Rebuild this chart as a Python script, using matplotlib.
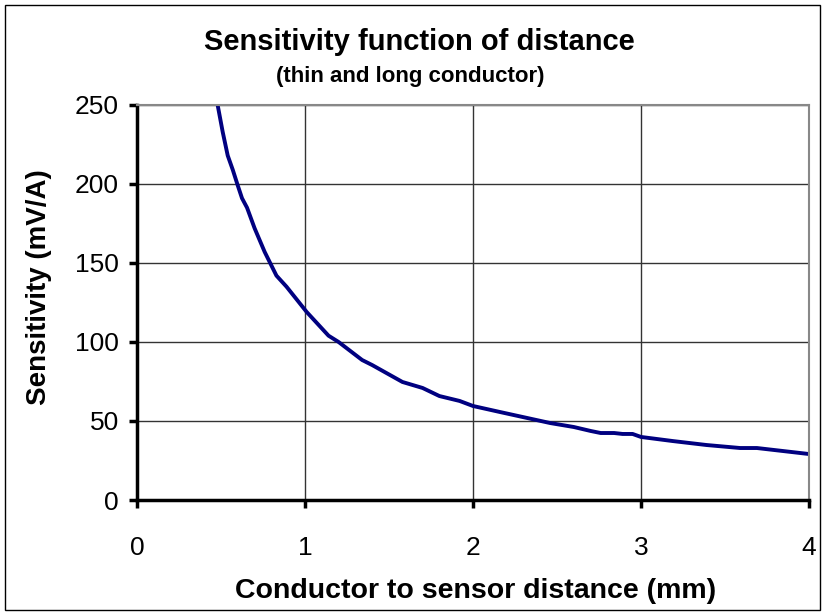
import matplotlib
matplotlib.use("Agg")
import matplotlib.pyplot as plt
from matplotlib.patches import Rectangle

plt.rcParams['font.family'] = ['Liberation Sans', 'DejaVu Sans']

distance_mm = [0.48, 0.51, 0.54, 0.57, 0.60, 0.625, 0.655, 0.70, 0.76, 0.83, 0.89, 0.95,
               1.01, 1.14, 1.20, 1.34, 1.40, 1.58, 1.70, 1.80, 1.92, 2.00,
               2.16, 2.46, 2.60, 2.70, 2.76, 2.84, 2.89, 2.95, 3.00, 3.19,
               3.39, 3.59, 3.69, 4.00]
sensitivity = [250, 233, 218, 209, 199, 191, 185, 172, 157, 142, 135, 127,
               119, 104, 100, 88.6, 85.4, 74.7, 70.9, 65.8, 62.7, 59.5,
               55.7, 48.7, 46.2, 43.7, 42.4, 42.4, 41.8, 41.8, 39.9, 37.3,
               34.8, 32.9, 32.9, 29.1]
x_ticks = [0, 1, 2, 3, 4]
y_ticks = [0, 50, 100, 150, 200, 250]

W, H = 824, 612
fig = plt.figure(figsize=(W/100, H/100), dpi=100)
ax = fig.add_axes([137/W, 1 - 500/H, (809-137)/W, (500-105)/H])

ax.plot(distance_mm, sensitivity, color='#000080', linewidth=2.8,
        solid_joinstyle='round', solid_capstyle='butt', clip_on=True)
ax.set_xlim(0, 4)
ax.set_ylim(0, 250)
ax.set_xticks(x_ticks)
ax.set_yticks(y_ticks)
ax.grid(True, color='#333333', linewidth=1.0)
ax.set_axisbelow(True)

for s in ['top', 'right']:
    ax.spines[s].set_color('#888888')
    ax.spines[s].set_linewidth(1.5)
for s in ['left', 'bottom']:
    ax.spines[s].set_color('black')
    ax.spines[s].set_linewidth(2.5)
ax.tick_params(direction='out', length=6, width=2.5, labelsize=19)
ax.tick_params(axis='y', pad=7)
ax.tick_params(axis='x', pad=20)

fig.text(476/W, 1 - 598/H, 'Conductor to sensor distance (mm)', ha='center', va='baseline',
         fontsize=20.5, fontweight='bold')
fig.text(39/W, 1 - 287/H, 'Sensitivity (mV/A)', ha='center', va='center', rotation=90,
         fontsize=20, fontweight='bold')

fig.text(419/W, 1 - 50/H, 'Sensitivity function of distance', ha='center', va='baseline',
         fontsize=21, fontweight='bold')
fig.text(410/W, 1 - 82/H, '(thin and long conductor)', ha='center', va='baseline',
         fontsize=16, fontweight='bold')

fig.add_artist(Rectangle((5/W, 2/H), 815/W, 605/H, transform=fig.transFigure,
                         fill=False, edgecolor='black', linewidth=1))

fig.savefig('out.png', dpi=100)
